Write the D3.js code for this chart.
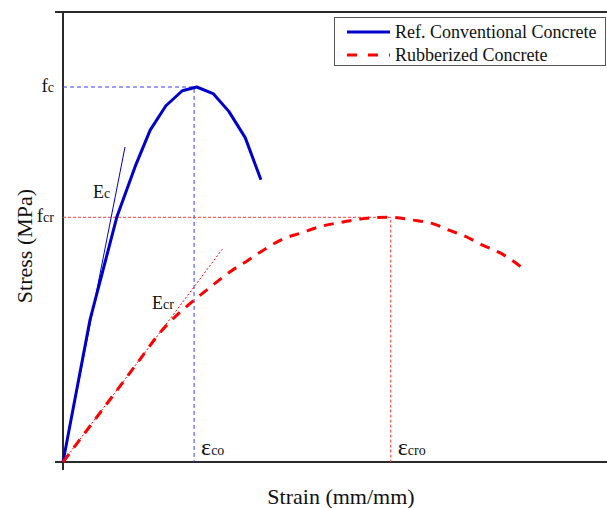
<!DOCTYPE html>
<html>
<head>
<meta charset="utf-8">
<script src="https://cdn.jsdelivr.net/npm/d3@7"></script>
<style>
  body { margin: 0; background: #fff; }
</style>
</head>
<body>
<svg id="chart" width="607" height="508"></svg>
<script>
// stress-strain data (strain mm/mm, stress MPa)
var conventionalStrain = [0, 0.00041, 0.00069, 0.00082, 0.00110, 0.00133, 0.00157, 0.00182, 0.00204, 0.00229, 0.00253, 0.00278, 0.00302];
var conventionalStress = [0, 15.1, 22.6, 26.1, 31.5, 35.4, 38.0, 39.6, 40.0, 39.3, 37.4, 34.6, 30.1];

var rubberStrain = [0, 0.00056, 0.00117, 0.00148, 0.00179, 0.00206, 0.00229, 0.00255, 0.00282, 0.00308, 0.00336, 0.00362, 0.00392, 0.00427, 0.00464, 0.00499, 0.00534, 0.00565, 0.00590, 0.00616, 0.00641, 0.00667, 0.00703];
var rubberStress = [0, 5.2, 10.9, 13.8, 16.0, 17.6, 18.9, 20.3, 21.5, 22.7, 23.8, 24.4, 25.1, 25.6, 26.0, 26.1, 25.8, 25.4, 24.7, 24.0, 23.1, 22.3, 20.6];

// tangent (elastic modulus) lines: end points
var ecLine = [[0, 0], [0.000946, 33.6]];
var ecrLine = [[0, 0], [0.00243, 22.7]];

// peak values
var fc = 40, epsCo = 0.002;
var fcr = 26.1, epsCro = 0.005;

var legendNames = ["Ref. Conventional Concrete", "Rubberized Concrete"];

var svg = d3.select("#chart")
    .attr("font-family", "'Liberation Serif', 'Times New Roman', 'DejaVu Serif', serif");

var x = d3.scaleLinear().domain([0, 0.0083]).range([63, 607]);
var y = d3.scaleLinear().domain([0, 48]).range([462, 12]);

var blue = "#0000cc", red = "#ff0000";

function zipPts(xs, ys) {
    return xs.map(function (v, i) { return [v, ys[i]]; });
}

var line = d3.line()
    .x(function (d) { return x(d[0]); })
    .y(function (d) { return y(d[1]); });

// frame / axes
var axisG = svg.append("g").attr("stroke", "#2a2a2a").attr("stroke-width", 2);
axisG.append("line").attr("x1", 55).attr("x2", 607).attr("y1", y(48)).attr("y2", y(48));
axisG.append("line").attr("x1", 55).attr("x2", 607).attr("y1", y(0)).attr("y2", y(0));
axisG.append("line").attr("x1", x(0)).attr("x2", x(0)).attr("y1", y(48) - 1).attr("y2", y(0) + 8);

// reference lines at the peaks
var refG = svg.append("g").attr("fill", "none").attr("stroke-width", 1);
refG.append("path")
    .attr("d", line([[0, fc], [epsCo, fc], [epsCo, 0]]))
    .attr("stroke", "#3a3aff")
    .attr("stroke-dasharray", "4,3");
refG.append("path")
    .attr("d", line([[0, fcr], [epsCro, fcr], [epsCro, 0]]))
    .attr("stroke", "#ff3b3b")
    .attr("stroke-dasharray", "3,2");

// tangent lines
svg.append("path")
    .attr("d", line(ecLine))
    .attr("fill", "none")
    .attr("stroke", blue)
    .attr("stroke-width", 1);
svg.append("path")
    .attr("d", line(ecrLine))
    .attr("fill", "none")
    .attr("stroke", red)
    .attr("stroke-width", 1)
    .attr("stroke-dasharray", "2,2");

// curves
svg.append("path")
    .attr("d", line(zipPts(conventionalStrain, conventionalStress)))
    .attr("fill", "none")
    .attr("stroke", blue)
    .attr("stroke-width", 3)
    .attr("stroke-linejoin", "round");
svg.append("path")
    .attr("d", line.curve(d3.curveMonotoneX)(zipPts(rubberStrain, rubberStress)))
    .attr("fill", "none")
    .attr("stroke", red)
    .attr("stroke-width", 3)
    .attr("stroke-dasharray", "10,8");
line.curve(d3.curveLinear);

// labels with small trailing letters
function label(px, py, main, sub, mainSize, subSize, anchor) {
    var t = svg.append("text")
        .attr("x", px).attr("y", py)
        .attr("fill", "#111")
        .attr("text-anchor", anchor || "start");
    t.append("tspan").attr("font-size", mainSize).text(main);
    t.append("tspan").attr("font-size", subSize).text(sub);
    return t;
}

label(x(0) - 9, y(fc) + 5, "f", "c", 19, 14, "end");
label(x(0) - 9, y(fcr) + 5, "f", "cr", 19, 14, "end");
label(93, 198, "E", "c", 18, 14);
label(152, 309, "E", "cr", 18, 14);
label(x(epsCo) + 7, 455, "ε", "co", 24, 14);
label(x(epsCro) + 7, 455, "ε", "cro", 24, 14);

// axis titles
svg.append("text")
    .attr("x", 341).attr("y", 504)
    .attr("text-anchor", "middle")
    .attr("font-size", 22)
    .attr("fill", "#111")
    .text("Strain (mm/mm)");
svg.append("text")
    .attr("transform", "translate(32,246) rotate(-90)")
    .attr("text-anchor", "middle")
    .attr("font-size", 22)
    .attr("fill", "#111")
    .text("Stress (MPa)");

// legend
var legend = svg.append("g");
legend.append("rect")
    .attr("x", 334.5).attr("y", 17.5)
    .attr("width", 271).attr("height", 48)
    .attr("fill", "#fff")
    .attr("stroke", "#555")
    .attr("stroke-width", 1);
legend.selectAll("line")
    .data(legendNames)
    .enter().append("line")
    .attr("x1", 347).attr("x2", 390)
    .attr("y1", function (d, i) { return 32 + i * 23; })
    .attr("y2", function (d, i) { return 32 + i * 23; })
    .attr("stroke", function (d, i) { return i === 0 ? blue : red; })
    .attr("stroke-width", 3)
    .attr("stroke-dasharray", function (d, i) { return i === 0 ? null : "10,11"; });
legend.selectAll("text")
    .data(legendNames)
    .enter().append("text")
    .attr("x", 395)
    .attr("y", function (d, i) { return 38 + i * 23; })
    .attr("font-size", 18)
    .attr("fill", "#111")
    .text(function (d) { return d; });
</script>
</body>
</html>
